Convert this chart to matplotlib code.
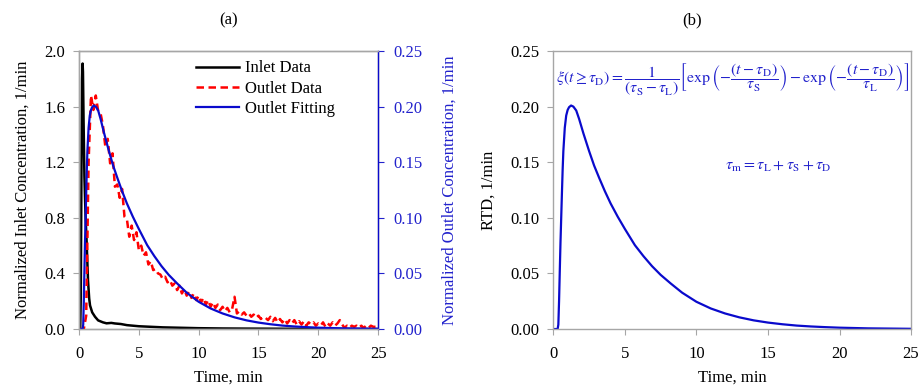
"""Tracer pulse test: (a) inlet/outlet concentration with model fit, (b) fitted RTD."""
import numpy as np
import matplotlib
matplotlib.use("Agg")
import matplotlib.pyplot as plt
from matplotlib.ticker import FormatStrFormatter, MultipleLocator

plt.rcParams.update({
    "font.family": ["Liberation Serif", "DejaVu Serif"],
    "mathtext.fontset": "stix",
    "font.size": 12,
    "axes.linewidth": 1.0,
})

# ---- data ----
# inlet pulse (normalized, left axis, 1/min)
INLET_T = [0, 0.10, 0.15, 0.20, 0.25, 0.30, 0.33, 0.38, 0.45, 0.55, 0.64, 0.75, 0.85,
           0.92, 1.1, 1.34, 1.6, 2.0, 2.3, 2.7, 3.0, 3.5, 4.0, 4.5, 5.0, 6.0, 7.0,
           8.0, 9.0, 10.0, 12.0, 14.0, 17.0, 20.0, 25.0]
INLET_C = [0, 0, 0.25, 1.10, 1.80, 1.91, 1.85, 1.50, 1.10, 0.80, 0.62, 0.35, 0.22,
           0.17, 0.12, 0.088, 0.062, 0.048, 0.041, 0.044, 0.040, 0.036, 0.028, 0.024, 0.020,
           0.016, 0.012, 0.010, 0.008, 0.006, 0.004, 0.003, 0.002, 0.001, 0.0]

# outlet detector, sampled every 0.2 min (right axis, 1/min)
OUTLET_T = np.round(np.arange(0, 25.01, 0.2), 1)
OUTLET_C = [
    0.0, 0.0, 0.0, 0.012, 0.150, 0.210, 0.197, 0.210, 0.196, 0.194,
    0.183, 0.164, 0.171, 0.149, 0.158, 0.128, 0.130, 0.118, 0.126, 0.101,
    0.099, 0.083, 0.093, 0.080, 0.087, 0.071, 0.075, 0.066, 0.069, 0.058,
    0.061, 0.053, 0.054, 0.050, 0.049, 0.045, 0.047, 0.042, 0.044, 0.039,
    0.041, 0.035, 0.039, 0.032, 0.036, 0.030, 0.034, 0.028, 0.032, 0.026,
    0.030, 0.024, 0.028, 0.022, 0.026, 0.020, 0.024, 0.019, 0.022, 0.017,
    0.020, 0.016, 0.019, 0.015, 0.018, 0.029, 0.014, 0.016, 0.013, 0.015,
    0.012, 0.014, 0.011, 0.013, 0.010, 0.012, 0.009, 0.011, 0.010, 0.008,
    0.011, 0.007, 0.010, 0.006, 0.009, 0.006, 0.009, 0.005, 0.008, 0.005,
    0.008, 0.004, 0.007, 0.004, 0.007, 0.003, 0.006, 0.004, 0.006, 0.003,
    0.005, 0.003, 0.006, 0.002, 0.005, 0.003, 0.006, 0.003, 0.005, 0.008,
    0.004, 0.001, 0.003, 0.001, 0.003, 0.002, 0.003, 0.001, 0.003, 0.001,
    0.003, 0.001, 0.003, 0.002, 0.002, 0.001,
]

# fitted RTD (1/min)
FIT_T = [0, 0.30, 0.35, 0.40, 0.45, 0.50, 0.55, 0.60, 0.65, 0.70, 0.80, 0.90, 1.00,
         1.10, 1.24, 1.40, 1.60, 1.80, 2.10, 2.50, 2.85, 3.20, 3.60, 4.00, 4.50, 5.00,
         5.70, 6.30, 6.90, 7.50, 8.20, 9.00, 10.0, 11.0, 12.0, 13.0, 14.0, 15.0, 16.0,
         17.0, 18.0, 19.0, 20.0, 22.0, 25.0]
FIT_E = [0, 0.0, 0.004, 0.025, 0.052, 0.078, 0.100, 0.122, 0.143, 0.160, 0.181, 0.192, 0.197,
         0.1995, 0.201, 0.200, 0.1965, 0.189, 0.176, 0.160, 0.147, 0.136, 0.124, 0.113, 0.101,
         0.090, 0.0754, 0.0655, 0.0565, 0.0487, 0.041, 0.0327, 0.0245, 0.0185, 0.014, 0.0105,
         0.0078, 0.0058, 0.0043, 0.0031, 0.0023, 0.0017, 0.0012, 0.0006, 0.0002]

GREY = "#A6A6A6"
BLUE_LINE = "#0A0ACC"
BLUE_TEXT = "#2222CC"


def style_axes(ax):
    for s in ("left", "bottom", "top", "right"):
        ax.spines[s].set_color(GREY)
    ax.tick_params(direction="out", length=4, color=GREY, labelsize=12, pad=6)


fig = plt.figure(figsize=(9.21, 3.88), dpi=100)

# ---- (a) ----
ax = fig.add_axes([0.0858, 0.152, 0.3247, 0.7165])
style_axes(ax)
h_in, = ax.plot(INLET_T, INLET_C, color="black", lw=1.8, label="Inlet Data")
ax.set_xlim(0, 25)
ax.set_ylim(0, 2.0)
ax.xaxis.set_major_locator(MultipleLocator(5))
ax.yaxis.set_major_locator(MultipleLocator(0.4))
ax.yaxis.set_major_formatter(FormatStrFormatter("%.1f"))
ax.tick_params(axis="x", pad=8)
ax.set_xlabel("Time, min", labelpad=6)
ax.set_ylabel("Normalized Inlet Concentration, 1/min", labelpad=10)

ax2 = ax.twinx()
style_axes(ax2)
ax2.spines["right"].set_color(BLUE_LINE)
ax2.tick_params(axis="y", colors=BLUE_TEXT, direction="out", length=4, pad=7)
h_out, = ax2.plot(OUTLET_T, OUTLET_C, color="red", lw=1.8, dashes=(3.0, 1.8),
                  label="Outlet Data")
h_fit, = ax2.plot(FIT_T, FIT_E, color=BLUE_LINE, lw=1.6, label="Outlet Fitting")
ax2.set_ylim(0, 0.25)
ax2.yaxis.set_major_locator(MultipleLocator(0.05))
ax2.yaxis.set_major_formatter(FormatStrFormatter("%.2f"))
ax2.set_ylabel("Normalized Outlet Concentration, 1/min", color=BLUE_TEXT, labelpad=14)
ax2.legend(handles=[h_in, h_out, h_fit], loc="upper left", bbox_to_anchor=(0.34, 1.02),
           frameon=False, handlelength=2.6, handletextpad=0.35, labelspacing=0.25,
           fontsize=12)

fig.text(0.248, 0.948, "(a)", ha="center", va="center", fontsize=12)

# ---- (b) ----
bx = fig.add_axes([0.6008, 0.152, 0.3884, 0.7165])
style_axes(bx)
bx.plot(FIT_T, FIT_E, color=BLUE_LINE, lw=1.6)
bx.set_xlim(0, 25)
bx.set_ylim(0, 0.25)
bx.xaxis.set_major_locator(MultipleLocator(5))
bx.yaxis.set_major_locator(MultipleLocator(0.05))
bx.yaxis.set_major_formatter(FormatStrFormatter("%.2f"))
bx.tick_params(axis="x", pad=8)
bx.set_xlabel("Time, min", labelpad=6)
bx.set_ylabel("RTD, 1/min", labelpad=10)

eq1 = (r"$\xi(t \geq \tau_\mathrm{D}) = \dfrac{1}{(\tau_\mathrm{S}-\tau_\mathrm{L})}"
       r"\left[\exp\left(-\dfrac{(t-\tau_\mathrm{D})}{\tau_\mathrm{S}}\right)"
       r"-\exp\left(-\dfrac{(t-\tau_\mathrm{D})}{\tau_\mathrm{L}}\right)\right]$")
fig.text(0.795, 0.794, eq1, ha="center", va="center", fontsize=11.4, color=BLUE_TEXT)
fig.text(0.845, 0.572, r"$\tau_\mathrm{m} = \tau_\mathrm{L} + \tau_\mathrm{S} + \tau_\mathrm{D}$",
         ha="center", va="center", fontsize=11.5, color=BLUE_TEXT)

fig.text(0.751, 0.948, "(b)", ha="center", va="center", fontsize=12)

fig.savefig("out.png", dpi=100)
